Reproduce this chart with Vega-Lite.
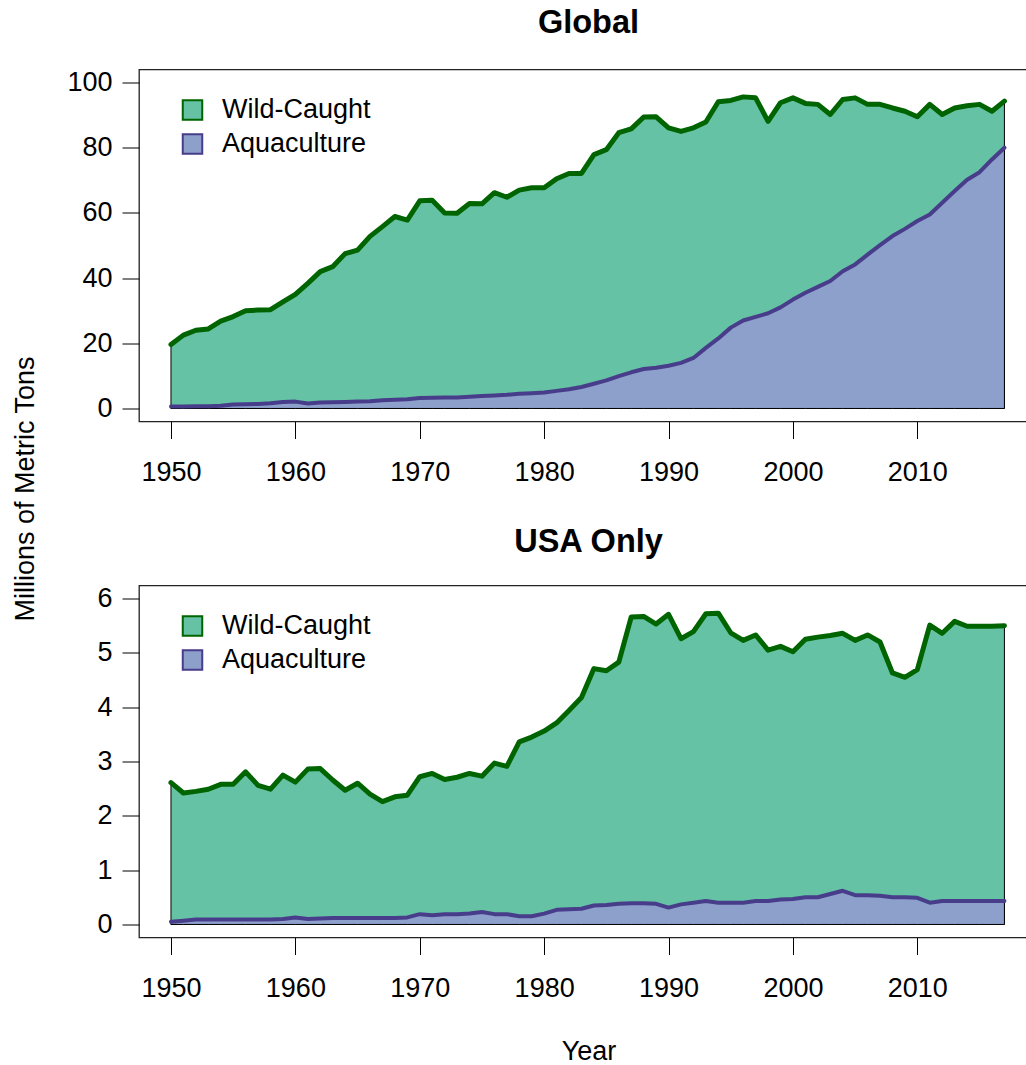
{
  "$schema": "https://vega.github.io/schema/vega-lite/v6.json",
  "autosize": {"type": "pad"},
  "padding": {"left": 10, "top": 5.5, "right": 0, "bottom": 0},
  "background": "white",
  "bounds": "flush",
  "spacing": 164,
  "resolve": {
    "scale": {"x": "independent", "y": "independent", "fill": "independent", "stroke": "independent"},
    "legend": {"fill": "independent", "stroke": "independent"}
  },
  "datasets": {
    "fish": [
      {"panel":"Global","series":"Wild-Caught","year":1950,"value":19.6},{"panel":"Global","series":"Wild-Caught","year":1951,"value":22.5},{"panel":"Global","series":"Wild-Caught","year":1952,"value":24.0},{"panel":"Global","series":"Wild-Caught","year":1953,"value":24.4},{"panel":"Global","series":"Wild-Caught","year":1954,"value":26.8},{"panel":"Global","series":"Wild-Caught","year":1955,"value":28.2},{"panel":"Global","series":"Wild-Caught","year":1956,"value":30.0},{"panel":"Global","series":"Wild-Caught","year":1957,"value":30.2},{"panel":"Global","series":"Wild-Caught","year":1958,"value":30.3},{"panel":"Global","series":"Wild-Caught","year":1959,"value":32.7},
      {"panel":"Global","series":"Wild-Caught","year":1960,"value":35.0},{"panel":"Global","series":"Wild-Caught","year":1961,"value":38.4},{"panel":"Global","series":"Wild-Caught","year":1962,"value":42.0},{"panel":"Global","series":"Wild-Caught","year":1963,"value":43.5},{"panel":"Global","series":"Wild-Caught","year":1964,"value":47.5},{"panel":"Global","series":"Wild-Caught","year":1965,"value":48.6},{"panel":"Global","series":"Wild-Caught","year":1966,"value":52.8},{"panel":"Global","series":"Wild-Caught","year":1967,"value":55.8},{"panel":"Global","series":"Wild-Caught","year":1968,"value":58.9},{"panel":"Global","series":"Wild-Caught","year":1969,"value":57.8},
      {"panel":"Global","series":"Wild-Caught","year":1970,"value":63.7},{"panel":"Global","series":"Wild-Caught","year":1971,"value":63.9},{"panel":"Global","series":"Wild-Caught","year":1972,"value":60.0},{"panel":"Global","series":"Wild-Caught","year":1973,"value":59.9},{"panel":"Global","series":"Wild-Caught","year":1974,"value":62.9},{"panel":"Global","series":"Wild-Caught","year":1975,"value":62.8},{"panel":"Global","series":"Wild-Caught","year":1976,"value":66.2},{"panel":"Global","series":"Wild-Caught","year":1977,"value":64.8},{"panel":"Global","series":"Wild-Caught","year":1978,"value":67.0},{"panel":"Global","series":"Wild-Caught","year":1979,"value":67.7},
      {"panel":"Global","series":"Wild-Caught","year":1980,"value":67.7},{"panel":"Global","series":"Wild-Caught","year":1981,"value":70.5},{"panel":"Global","series":"Wild-Caught","year":1982,"value":72.1},{"panel":"Global","series":"Wild-Caught","year":1983,"value":72.1},{"panel":"Global","series":"Wild-Caught","year":1984,"value":77.9},{"panel":"Global","series":"Wild-Caught","year":1985,"value":79.4},{"panel":"Global","series":"Wild-Caught","year":1986,"value":84.6},{"panel":"Global","series":"Wild-Caught","year":1987,"value":85.8},{"panel":"Global","series":"Wild-Caught","year":1988,"value":89.4},{"panel":"Global","series":"Wild-Caught","year":1989,"value":89.5},
      {"panel":"Global","series":"Wild-Caught","year":1990,"value":86.1},{"panel":"Global","series":"Wild-Caught","year":1991,"value":85.0},{"panel":"Global","series":"Wild-Caught","year":1992,"value":86.1},{"panel":"Global","series":"Wild-Caught","year":1993,"value":87.9},{"panel":"Global","series":"Wild-Caught","year":1994,"value":94.1},{"panel":"Global","series":"Wild-Caught","year":1995,"value":94.5},{"panel":"Global","series":"Wild-Caught","year":1996,"value":95.6},{"panel":"Global","series":"Wild-Caught","year":1997,"value":95.3},{"panel":"Global","series":"Wild-Caught","year":1998,"value":88.1},{"panel":"Global","series":"Wild-Caught","year":1999,"value":93.8},
      {"panel":"Global","series":"Wild-Caught","year":2000,"value":95.3},{"panel":"Global","series":"Wild-Caught","year":2001,"value":93.6},{"panel":"Global","series":"Wild-Caught","year":2002,"value":93.3},{"panel":"Global","series":"Wild-Caught","year":2003,"value":90.2},{"panel":"Global","series":"Wild-Caught","year":2004,"value":94.8},{"panel":"Global","series":"Wild-Caught","year":2005,"value":95.3},{"panel":"Global","series":"Wild-Caught","year":2006,"value":93.3},{"panel":"Global","series":"Wild-Caught","year":2007,"value":93.3},{"panel":"Global","series":"Wild-Caught","year":2008,"value":92.2},{"panel":"Global","series":"Wild-Caught","year":2009,"value":91.2},
      {"panel":"Global","series":"Wild-Caught","year":2010,"value":89.5},{"panel":"Global","series":"Wild-Caught","year":2011,"value":93.3},{"panel":"Global","series":"Wild-Caught","year":2012,"value":90.2},{"panel":"Global","series":"Wild-Caught","year":2013,"value":92.2},{"panel":"Global","series":"Wild-Caught","year":2014,"value":92.9},{"panel":"Global","series":"Wild-Caught","year":2015,"value":93.3},{"panel":"Global","series":"Wild-Caught","year":2016,"value":91.2},{"panel":"Global","series":"Wild-Caught","year":2017,"value":94.3},

      {"panel":"Global","series":"Aquaculture","year":1950,"value":0.6},{"panel":"Global","series":"Aquaculture","year":1951,"value":0.6},{"panel":"Global","series":"Aquaculture","year":1952,"value":0.7},{"panel":"Global","series":"Aquaculture","year":1953,"value":0.7},{"panel":"Global","series":"Aquaculture","year":1954,"value":0.8},{"panel":"Global","series":"Aquaculture","year":1955,"value":1.2},{"panel":"Global","series":"Aquaculture","year":1956,"value":1.3},{"panel":"Global","series":"Aquaculture","year":1957,"value":1.4},{"panel":"Global","series":"Aquaculture","year":1958,"value":1.6},{"panel":"Global","series":"Aquaculture","year":1959,"value":2.0},
      {"panel":"Global","series":"Aquaculture","year":1960,"value":2.1},{"panel":"Global","series":"Aquaculture","year":1961,"value":1.5},{"panel":"Global","series":"Aquaculture","year":1962,"value":1.8},{"panel":"Global","series":"Aquaculture","year":1963,"value":1.9},{"panel":"Global","series":"Aquaculture","year":1964,"value":2.0},{"panel":"Global","series":"Aquaculture","year":1965,"value":2.1},{"panel":"Global","series":"Aquaculture","year":1966,"value":2.2},{"panel":"Global","series":"Aquaculture","year":1967,"value":2.5},{"panel":"Global","series":"Aquaculture","year":1968,"value":2.7},{"panel":"Global","series":"Aquaculture","year":1969,"value":2.8},
      {"panel":"Global","series":"Aquaculture","year":1970,"value":3.2},{"panel":"Global","series":"Aquaculture","year":1971,"value":3.3},{"panel":"Global","series":"Aquaculture","year":1972,"value":3.4},{"panel":"Global","series":"Aquaculture","year":1973,"value":3.4},{"panel":"Global","series":"Aquaculture","year":1974,"value":3.6},{"panel":"Global","series":"Aquaculture","year":1975,"value":3.8},{"panel":"Global","series":"Aquaculture","year":1976,"value":4.0},{"panel":"Global","series":"Aquaculture","year":1977,"value":4.2},{"panel":"Global","series":"Aquaculture","year":1978,"value":4.5},{"panel":"Global","series":"Aquaculture","year":1979,"value":4.7},
      {"panel":"Global","series":"Aquaculture","year":1980,"value":4.9},{"panel":"Global","series":"Aquaculture","year":1981,"value":5.4},{"panel":"Global","series":"Aquaculture","year":1982,"value":5.9},{"panel":"Global","series":"Aquaculture","year":1983,"value":6.6},{"panel":"Global","series":"Aquaculture","year":1984,"value":7.6},{"panel":"Global","series":"Aquaculture","year":1985,"value":8.6},{"panel":"Global","series":"Aquaculture","year":1986,"value":9.9},{"panel":"Global","series":"Aquaculture","year":1987,"value":11.1},{"panel":"Global","series":"Aquaculture","year":1988,"value":12.1},{"panel":"Global","series":"Aquaculture","year":1989,"value":12.5},
      {"panel":"Global","series":"Aquaculture","year":1990,"value":13.1},{"panel":"Global","series":"Aquaculture","year":1991,"value":14.0},{"panel":"Global","series":"Aquaculture","year":1992,"value":15.5},{"panel":"Global","series":"Aquaculture","year":1993,"value":18.6},{"panel":"Global","series":"Aquaculture","year":1994,"value":21.5},{"panel":"Global","series":"Aquaculture","year":1995,"value":24.8},{"panel":"Global","series":"Aquaculture","year":1996,"value":27.0},{"panel":"Global","series":"Aquaculture","year":1997,"value":28.1},{"panel":"Global","series":"Aquaculture","year":1998,"value":29.2},{"panel":"Global","series":"Aquaculture","year":1999,"value":31.0},
      {"panel":"Global","series":"Aquaculture","year":2000,"value":33.4},{"panel":"Global","series":"Aquaculture","year":2001,"value":35.5},{"panel":"Global","series":"Aquaculture","year":2002,"value":37.3},{"panel":"Global","series":"Aquaculture","year":2003,"value":39.1},{"panel":"Global","series":"Aquaculture","year":2004,"value":42.1},{"panel":"Global","series":"Aquaculture","year":2005,"value":44.2},{"panel":"Global","series":"Aquaculture","year":2006,"value":47.2},{"panel":"Global","series":"Aquaculture","year":2007,"value":50.1},{"panel":"Global","series":"Aquaculture","year":2008,"value":52.9},{"panel":"Global","series":"Aquaculture","year":2009,"value":55.1},
      {"panel":"Global","series":"Aquaculture","year":2010,"value":57.5},{"panel":"Global","series":"Aquaculture","year":2011,"value":59.5},{"panel":"Global","series":"Aquaculture","year":2012,"value":63.1},{"panel":"Global","series":"Aquaculture","year":2013,"value":66.7},{"panel":"Global","series":"Aquaculture","year":2014,"value":70.2},{"panel":"Global","series":"Aquaculture","year":2015,"value":72.5},{"panel":"Global","series":"Aquaculture","year":2016,"value":76.4},{"panel":"Global","series":"Aquaculture","year":2017,"value":80.0},

      {"panel":"USA","series":"Wild-Caught","year":1950,"value":2.61},{"panel":"USA","series":"Wild-Caught","year":1951,"value":2.42},{"panel":"USA","series":"Wild-Caught","year":1952,"value":2.45},{"panel":"USA","series":"Wild-Caught","year":1953,"value":2.49},{"panel":"USA","series":"Wild-Caught","year":1954,"value":2.58},{"panel":"USA","series":"Wild-Caught","year":1955,"value":2.58},{"panel":"USA","series":"Wild-Caught","year":1956,"value":2.81},{"panel":"USA","series":"Wild-Caught","year":1957,"value":2.56},{"panel":"USA","series":"Wild-Caught","year":1958,"value":2.49},{"panel":"USA","series":"Wild-Caught","year":1959,"value":2.75},
      {"panel":"USA","series":"Wild-Caught","year":1960,"value":2.62},{"panel":"USA","series":"Wild-Caught","year":1961,"value":2.86},{"panel":"USA","series":"Wild-Caught","year":1962,"value":2.87},{"panel":"USA","series":"Wild-Caught","year":1963,"value":2.66},{"panel":"USA","series":"Wild-Caught","year":1964,"value":2.47},{"panel":"USA","series":"Wild-Caught","year":1965,"value":2.60},{"panel":"USA","series":"Wild-Caught","year":1966,"value":2.40},{"panel":"USA","series":"Wild-Caught","year":1967,"value":2.26},{"panel":"USA","series":"Wild-Caught","year":1968,"value":2.35},{"panel":"USA","series":"Wild-Caught","year":1969,"value":2.38},
      {"panel":"USA","series":"Wild-Caught","year":1970,"value":2.72},{"panel":"USA","series":"Wild-Caught","year":1971,"value":2.78},{"panel":"USA","series":"Wild-Caught","year":1972,"value":2.67},{"panel":"USA","series":"Wild-Caught","year":1973,"value":2.71},{"panel":"USA","series":"Wild-Caught","year":1974,"value":2.78},{"panel":"USA","series":"Wild-Caught","year":1975,"value":2.73},{"panel":"USA","series":"Wild-Caught","year":1976,"value":2.97},{"panel":"USA","series":"Wild-Caught","year":1977,"value":2.91},{"panel":"USA","series":"Wild-Caught","year":1978,"value":3.36},{"panel":"USA","series":"Wild-Caught","year":1979,"value":3.45},
      {"panel":"USA","series":"Wild-Caught","year":1980,"value":3.56},{"panel":"USA","series":"Wild-Caught","year":1981,"value":3.71},{"panel":"USA","series":"Wild-Caught","year":1982,"value":3.94},{"panel":"USA","series":"Wild-Caught","year":1983,"value":4.18},{"panel":"USA","series":"Wild-Caught","year":1984,"value":4.71},{"panel":"USA","series":"Wild-Caught","year":1985,"value":4.67},{"panel":"USA","series":"Wild-Caught","year":1986,"value":4.83},{"panel":"USA","series":"Wild-Caught","year":1987,"value":5.66},{"panel":"USA","series":"Wild-Caught","year":1988,"value":5.67},{"panel":"USA","series":"Wild-Caught","year":1989,"value":5.53},
      {"panel":"USA","series":"Wild-Caught","year":1990,"value":5.71},{"panel":"USA","series":"Wild-Caught","year":1991,"value":5.26},{"panel":"USA","series":"Wild-Caught","year":1992,"value":5.39},{"panel":"USA","series":"Wild-Caught","year":1993,"value":5.72},{"panel":"USA","series":"Wild-Caught","year":1994,"value":5.73},{"panel":"USA","series":"Wild-Caught","year":1995,"value":5.37},{"panel":"USA","series":"Wild-Caught","year":1996,"value":5.23},{"panel":"USA","series":"Wild-Caught","year":1997,"value":5.33},{"panel":"USA","series":"Wild-Caught","year":1998,"value":5.05},{"panel":"USA","series":"Wild-Caught","year":1999,"value":5.12},
      {"panel":"USA","series":"Wild-Caught","year":2000,"value":5.02},{"panel":"USA","series":"Wild-Caught","year":2001,"value":5.25},{"panel":"USA","series":"Wild-Caught","year":2002,"value":5.29},{"panel":"USA","series":"Wild-Caught","year":2003,"value":5.32},{"panel":"USA","series":"Wild-Caught","year":2004,"value":5.36},{"panel":"USA","series":"Wild-Caught","year":2005,"value":5.23},{"panel":"USA","series":"Wild-Caught","year":2006,"value":5.33},{"panel":"USA","series":"Wild-Caught","year":2007,"value":5.20},{"panel":"USA","series":"Wild-Caught","year":2008,"value":4.63},{"panel":"USA","series":"Wild-Caught","year":2009,"value":4.55},
      {"panel":"USA","series":"Wild-Caught","year":2010,"value":4.69},{"panel":"USA","series":"Wild-Caught","year":2011,"value":5.51},{"panel":"USA","series":"Wild-Caught","year":2012,"value":5.36},{"panel":"USA","series":"Wild-Caught","year":2013,"value":5.58},{"panel":"USA","series":"Wild-Caught","year":2014,"value":5.49},{"panel":"USA","series":"Wild-Caught","year":2015,"value":5.49},{"panel":"USA","series":"Wild-Caught","year":2016,"value":5.49},{"panel":"USA","series":"Wild-Caught","year":2017,"value":5.50},

      {"panel":"USA","series":"Aquaculture","year":1950,"value":0.05},{"panel":"USA","series":"Aquaculture","year":1951,"value":0.07},{"panel":"USA","series":"Aquaculture","year":1952,"value":0.09},{"panel":"USA","series":"Aquaculture","year":1953,"value":0.09},{"panel":"USA","series":"Aquaculture","year":1954,"value":0.09},{"panel":"USA","series":"Aquaculture","year":1955,"value":0.09},{"panel":"USA","series":"Aquaculture","year":1956,"value":0.09},{"panel":"USA","series":"Aquaculture","year":1957,"value":0.09},{"panel":"USA","series":"Aquaculture","year":1958,"value":0.09},{"panel":"USA","series":"Aquaculture","year":1959,"value":0.10},
      {"panel":"USA","series":"Aquaculture","year":1960,"value":0.13},{"panel":"USA","series":"Aquaculture","year":1961,"value":0.10},{"panel":"USA","series":"Aquaculture","year":1962,"value":0.11},{"panel":"USA","series":"Aquaculture","year":1963,"value":0.12},{"panel":"USA","series":"Aquaculture","year":1964,"value":0.12},{"panel":"USA","series":"Aquaculture","year":1965,"value":0.12},{"panel":"USA","series":"Aquaculture","year":1966,"value":0.12},{"panel":"USA","series":"Aquaculture","year":1967,"value":0.12},{"panel":"USA","series":"Aquaculture","year":1968,"value":0.12},{"panel":"USA","series":"Aquaculture","year":1969,"value":0.13},
      {"panel":"USA","series":"Aquaculture","year":1970,"value":0.19},{"panel":"USA","series":"Aquaculture","year":1971,"value":0.17},{"panel":"USA","series":"Aquaculture","year":1972,"value":0.19},{"panel":"USA","series":"Aquaculture","year":1973,"value":0.19},{"panel":"USA","series":"Aquaculture","year":1974,"value":0.20},{"panel":"USA","series":"Aquaculture","year":1975,"value":0.23},{"panel":"USA","series":"Aquaculture","year":1976,"value":0.19},{"panel":"USA","series":"Aquaculture","year":1977,"value":0.19},{"panel":"USA","series":"Aquaculture","year":1978,"value":0.15},{"panel":"USA","series":"Aquaculture","year":1979,"value":0.15},
      {"panel":"USA","series":"Aquaculture","year":1980,"value":0.20},{"panel":"USA","series":"Aquaculture","year":1981,"value":0.27},{"panel":"USA","series":"Aquaculture","year":1982,"value":0.28},{"panel":"USA","series":"Aquaculture","year":1983,"value":0.29},{"panel":"USA","series":"Aquaculture","year":1984,"value":0.35},{"panel":"USA","series":"Aquaculture","year":1985,"value":0.36},{"panel":"USA","series":"Aquaculture","year":1986,"value":0.38},{"panel":"USA","series":"Aquaculture","year":1987,"value":0.39},{"panel":"USA","series":"Aquaculture","year":1988,"value":0.39},{"panel":"USA","series":"Aquaculture","year":1989,"value":0.38},
      {"panel":"USA","series":"Aquaculture","year":1990,"value":0.31},{"panel":"USA","series":"Aquaculture","year":1991,"value":0.37},{"panel":"USA","series":"Aquaculture","year":1992,"value":0.40},{"panel":"USA","series":"Aquaculture","year":1993,"value":0.43},{"panel":"USA","series":"Aquaculture","year":1994,"value":0.40},{"panel":"USA","series":"Aquaculture","year":1995,"value":0.40},{"panel":"USA","series":"Aquaculture","year":1996,"value":0.40},{"panel":"USA","series":"Aquaculture","year":1997,"value":0.43},{"panel":"USA","series":"Aquaculture","year":1998,"value":0.43},{"panel":"USA","series":"Aquaculture","year":1999,"value":0.46},
      {"panel":"USA","series":"Aquaculture","year":2000,"value":0.47},{"panel":"USA","series":"Aquaculture","year":2001,"value":0.50},{"panel":"USA","series":"Aquaculture","year":2002,"value":0.50},{"panel":"USA","series":"Aquaculture","year":2003,"value":0.56},{"panel":"USA","series":"Aquaculture","year":2004,"value":0.62},{"panel":"USA","series":"Aquaculture","year":2005,"value":0.54},{"panel":"USA","series":"Aquaculture","year":2006,"value":0.54},{"panel":"USA","series":"Aquaculture","year":2007,"value":0.53},{"panel":"USA","series":"Aquaculture","year":2008,"value":0.50},{"panel":"USA","series":"Aquaculture","year":2009,"value":0.50},
      {"panel":"USA","series":"Aquaculture","year":2010,"value":0.49},{"panel":"USA","series":"Aquaculture","year":2011,"value":0.40},{"panel":"USA","series":"Aquaculture","year":2012,"value":0.43},{"panel":"USA","series":"Aquaculture","year":2013,"value":0.43},{"panel":"USA","series":"Aquaculture","year":2014,"value":0.43},{"panel":"USA","series":"Aquaculture","year":2015,"value":0.43},{"panel":"USA","series":"Aquaculture","year":2016,"value":0.43},{"panel":"USA","series":"Aquaculture","year":2017,"value":0.43}
    ]
  },
  "vconcat": [
    {
      "title": {"text": "Global"},
      "width": 899,
      "height": 352,
      "data": {"name": "fish"},
      "transform": [{"filter": "datum.panel === 'Global'"}],
      "encoding": {
        "x": {"field": "year", "type": "quantitative", "scale": {"domain": [1947.43, 2019.7], "nice": false, "zero": false},
              "axis": {"values": [1950, 1960, 1970, 1980, 1990, 2000, 2010], "format": "d", "title": null}},
        "y": {"field": "value", "type": "quantitative", "stack": null, "scale": {"domain": [-4, 104], "nice": false, "zero": false},
              "axis": {"values": [0, 20, 40, 60, 80, 100], "title": "Millions of Metric Tons", "titleX": -114, "titleY": 419, "titleAlign": "center", "titleBaseline": "middle", "titleAngle": -90}}
      },
      "layer": [
        {"transform": [{"filter": "datum.series === 'Wild-Caught'"}], "mark": {"type": "area", "opacity": 1},
         "encoding": {"y2": {"datum": 0}, "fill": {"field": "series", "type": "nominal", "scale": {"domain": ["Wild-Caught", "Aquaculture"], "range": ["#66C2A5", "#8DA0CB"]}, "legend": {"title": null, "symbolType": "square"}}}},
        {"transform": [{"filter": "datum.series === 'Wild-Caught'"}], "mark": {"type": "area", "filled": false, "stroke": "black", "strokeWidth": 1},
         "encoding": {"y2": {"datum": 0}}},
        {"transform": [{"filter": "datum.series === 'Wild-Caught'"}], "mark": {"type": "line", "strokeWidth": 5, "strokeCap": "round", "strokeJoin": "round"},
         "encoding": {"stroke": {"field": "series", "type": "nominal", "scale": {"domain": ["Wild-Caught", "Aquaculture"], "range": ["#006400", "#483D8B"]}, "legend": {"title": null, "symbolType": "square"}}}},
        {"transform": [{"filter": "datum.series === 'Aquaculture'"}], "mark": {"type": "area", "opacity": 1},
         "encoding": {"y2": {"datum": 0}, "fill": {"field": "series", "type": "nominal", "scale": {"domain": ["Wild-Caught", "Aquaculture"], "range": ["#66C2A5", "#8DA0CB"]}, "legend": {"title": null, "symbolType": "square"}}}},
        {"transform": [{"filter": "datum.series === 'Aquaculture'"}], "mark": {"type": "area", "filled": false, "stroke": "black", "strokeWidth": 1},
         "encoding": {"y2": {"datum": 0}}},
        {"transform": [{"filter": "datum.series === 'Aquaculture'"}], "mark": {"type": "line", "strokeWidth": 4, "strokeCap": "round", "strokeJoin": "round"},
         "encoding": {"stroke": {"field": "series", "type": "nominal", "scale": {"domain": ["Wild-Caught", "Aquaculture"], "range": ["#006400", "#483D8B"]}, "legend": {"title": null, "symbolType": "square"}}}}
      ]
    },
    {
      "title": {"text": "USA Only", "offset": 26},
      "width": 899,
      "height": 352,
      "data": {"name": "fish"},
      "transform": [{"filter": "datum.panel === 'USA'"}],
      "encoding": {
        "x": {"field": "year", "type": "quantitative", "scale": {"domain": [1947.43, 2019.7], "nice": false, "zero": false},
              "axis": {"values": [1950, 1960, 1970, 1980, 1990, 2000, 2010], "format": "d", "title": "Year", "titleX": 449.5, "titleY": 101, "titleAlign": "center", "titleBaseline": "top"}},
        "y": {"field": "value", "type": "quantitative", "stack": null, "scale": {"domain": [-0.24, 6.24], "nice": false, "zero": false},
              "axis": {"values": [0, 1, 2, 3, 4, 5, 6], "title": null}}
      },
      "layer": [
        {"transform": [{"filter": "datum.series === 'Wild-Caught'"}], "mark": {"type": "area", "opacity": 1},
         "encoding": {"y2": {"datum": 0}, "fill": {"field": "series", "type": "nominal", "scale": {"domain": ["Wild-Caught", "Aquaculture"], "range": ["#66C2A5", "#8DA0CB"]}, "legend": {"title": null, "symbolType": "square"}}}},
        {"transform": [{"filter": "datum.series === 'Wild-Caught'"}], "mark": {"type": "area", "filled": false, "stroke": "black", "strokeWidth": 1},
         "encoding": {"y2": {"datum": 0}}},
        {"transform": [{"filter": "datum.series === 'Wild-Caught'"}], "mark": {"type": "line", "strokeWidth": 5, "strokeCap": "round", "strokeJoin": "round"},
         "encoding": {"stroke": {"field": "series", "type": "nominal", "scale": {"domain": ["Wild-Caught", "Aquaculture"], "range": ["#006400", "#483D8B"]}, "legend": {"title": null, "symbolType": "square"}}}},
        {"transform": [{"filter": "datum.series === 'Aquaculture'"}], "mark": {"type": "area", "opacity": 1},
         "encoding": {"y2": {"datum": 0}, "fill": {"field": "series", "type": "nominal", "scale": {"domain": ["Wild-Caught", "Aquaculture"], "range": ["#66C2A5", "#8DA0CB"]}, "legend": {"title": null, "symbolType": "square"}}}},
        {"transform": [{"filter": "datum.series === 'Aquaculture'"}], "mark": {"type": "area", "filled": false, "stroke": "black", "strokeWidth": 1},
         "encoding": {"y2": {"datum": 0}}},
        {"transform": [{"filter": "datum.series === 'Aquaculture'"}], "mark": {"type": "line", "strokeWidth": 4, "strokeCap": "round", "strokeJoin": "round"},
         "encoding": {"stroke": {"field": "series", "type": "nominal", "scale": {"domain": ["Wild-Caught", "Aquaculture"], "range": ["#006400", "#483D8B"]}, "legend": {"title": null, "symbolType": "square"}}}}
      ]
    }
  ],
  "config": {
    "font": "Liberation Sans",
    "view": {"stroke": "#222222", "strokeWidth": 1.3},
    "axis": {"grid": false, "domain": false, "ticks": true, "tickColor": "black", "tickSize": 17, "tickWidth": 1,
             "labelFont": "Liberation Sans", "labelFontSize": 27, "labelColor": "black", "labelFlush": false, "labelOverlap": false,
             "titleFont": "Liberation Sans", "titleFontSize": 27, "titleFontWeight": "normal", "titleColor": "black"},
    "axisX": {"labelPadding": 21},
    "axisY": {"labelPadding": 10},
    "legend": {"orient": "none", "legendX": 40, "legendY": 27, "padding": 0, "symbolType": "square", "symbolSize": 380,
               "symbolStrokeWidth": 2, "symbolOpacity": 1, "labelFont": "Liberation Sans", "labelFontSize": 27, "labelColor": "black",
               "labelOffset": 16, "rowPadding": 5, "direction": "vertical", "titlePadding": 0},
    "title": {"font": "Liberation Sans", "fontSize": 32.5, "fontWeight": "bold", "color": "black", "anchor": "middle", "baseline": "alphabetic", "offset": 29, "frame": "group"}
  }
}
